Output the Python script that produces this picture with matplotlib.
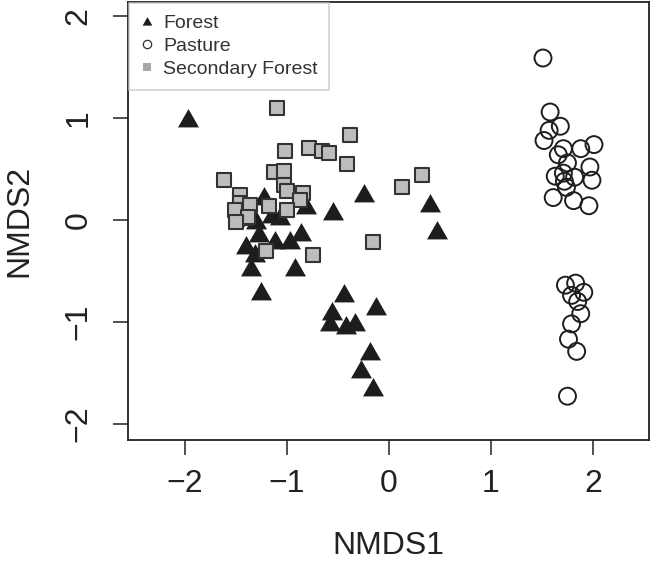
import matplotlib
matplotlib.use('Agg')
import matplotlib.pyplot as plt
from matplotlib.lines import Line2D

plt.rcParams['font.family'] = ['Liberation Sans', 'DejaVu Sans']

# NMDS scores
forest_x = [-1.97, -0.25, -0.55, 0.40, 0.47, -1.23, -0.81, -1.07, -1.30, -1.15,
            -1.28, -1.12, -1.40, -0.97, -0.86, -1.31, -1.35, -0.92, -1.26,
            -0.44, -0.13, -0.56, -0.58, -0.42, -0.33, -0.19, -0.27, -0.16]
forest_y = [1.00, 0.26, 0.09, 0.17, -0.10, 0.24, 0.15, 0.04, 0.00, 0.06,
            -0.13, -0.20, -0.25, -0.20, -0.12, -0.32, -0.46, -0.46, -0.70,
            -0.72, -0.84, -0.89, -1.00, -1.03, -1.00, -1.29, -1.46, -1.64]

pasture_x = [1.51, 1.58, 1.68, 1.57, 1.52, 1.71, 1.88, 2.01, 1.66, 1.75,
             1.97, 1.63, 1.71, 1.82, 1.99, 1.72, 1.74, 1.61, 1.81, 1.96,
             1.73, 1.83, 1.79, 1.91, 1.85, 1.88, 1.79, 1.76, 1.84, 1.75]
pasture_y = [1.59, 1.06, 0.92, 0.88, 0.78, 0.70, 0.70, 0.74, 0.64, 0.56,
             0.52, 0.43, 0.46, 0.42, 0.39, 0.38, 0.32, 0.22, 0.19, 0.14,
             -0.64, -0.62, -0.74, -0.71, -0.80, -0.92, -1.02, -1.17, -1.29, -1.73]

second_x = [-1.10, -0.38, -1.02, -0.78, -0.66, -0.59, -0.41, -1.13, -1.03, -1.62,
            -1.03, -1.00, -0.84, -0.87, -1.46, -1.46, -1.36, -1.18, -1.00, -1.49,
            -1.40, -1.51, -1.38, -1.50, 0.32, 0.13, -0.16, -0.75, -1.21]
second_y = [1.10, 0.83, 0.68, 0.71, 0.68, 0.66, 0.55, 0.47, 0.48, 0.39,
            0.34, 0.28, 0.26, 0.20, 0.25, 0.17, 0.15, 0.14, 0.10, 0.01,
            0.02, 0.10, 0.03, -0.02, 0.44, 0.32, -0.22, -0.34, -0.30]

groups = ['Forest', 'Pasture', 'Secondary Forest']
xticks = [-2, -1, 0, 1, 2]
yticks = [-2, -1, 0, 1, 2]

tri = [(-1, -0.85), (1, -0.85), (0, 0.9)]

fig = plt.figure(figsize=(6.51, 5.69), dpi=100)
ax = fig.add_axes([0.1966, 0.2267, 0.8004, 0.7698])

ax.scatter(forest_x, forest_y, marker=tri, s=15.1 ** 2, c='#1e1c1c', linewidths=0)
ax.scatter(pasture_x, pasture_y, marker='o', s=12.2 ** 2, facecolors='none',
           edgecolors='#1e1e1e', linewidths=1.4)
ax.scatter(second_x, second_y, marker='s', s=10.5 ** 2, facecolors='#bdbdbd',
           edgecolors='#333333', linewidths=1.5)

ax.set_xlim(-2.56, 2.55)
ax.set_ylim(-2.16, 2.14)
ax.set_xticks(xticks)
ax.set_yticks(yticks)
ax.set_xticklabels(['\u22122', '\u22121', '0', '1', '2'])
ax.set_yticklabels(['\u22122', '\u22121', '0', '1', '2'], rotation=90, va='center')
ax.tick_params(direction='out', length=10.8, width=1.1, colors='#222222',
               labelsize=23)
ax.tick_params(axis='x', pad=10)
ax.tick_params(axis='y', pad=14)
for sp in ax.spines.values():
    sp.set_linewidth(1.3)
    sp.set_color('#222222')

ax.set_xlabel('NMDS1', fontsize=23, color='#222222', va='center')
ax.set_ylabel('NMDS2', fontsize=23, color='#222222', va='center')
ax.xaxis.set_label_coords(0.5, -0.242)
ax.yaxis.set_label_coords(-0.208, 0.5)

handles = [
    Line2D([], [], ls='none', marker=tri, markersize=7, color='#1e1c1c', markeredgewidth=0),
    Line2D([], [], ls='none', marker='o', markersize=6, markerfacecolor='none',
           markeredgecolor='#333333', markeredgewidth=0.9),
    Line2D([], [], ls='none', marker='s', markersize=6, color='#a8a8a8', markeredgewidth=0),
]
leg = ax.legend(handles, groups, loc='upper left', bbox_to_anchor=(0.0, 1.0),
                fontsize=14, frameon=True, fancybox=False, borderaxespad=0.05,
                handlelength=0.7, handletextpad=0.45, labelspacing=0.27,
                borderpad=0.6)
leg.get_frame().set_edgecolor('#c8c8c8')
leg.get_frame().set_linewidth(1.2)
for t in leg.get_texts():
    t.set_color('#333333')

fig.savefig('out.png', dpi=100)
